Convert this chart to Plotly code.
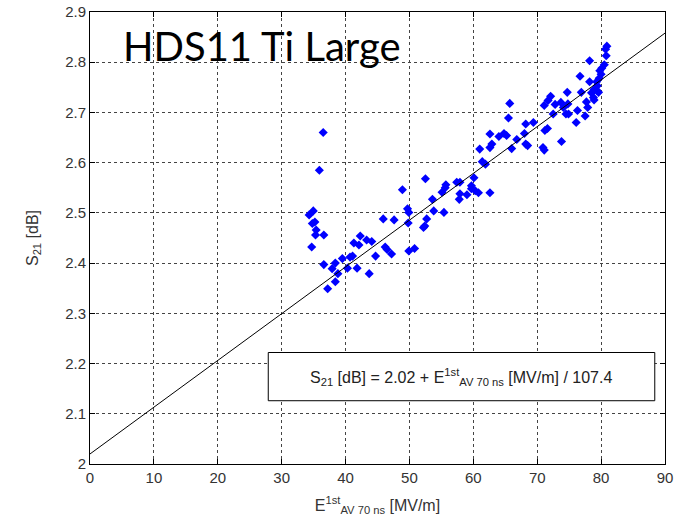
import plotly.graph_objects as go

# Measured data: E_acc (MV/m) vs S21 (dB)
e_field = [
    36.5, 35.9, 34.95, 34.3, 35.2, 34.8, 35.4, 35.3, 36.6, 34.7,
    36.6, 38.4, 37.9, 39.5, 38.8, 38.4, 37.2, 40.7, 41.1, 40.3, 41.8, 43.7, 44.7,
    41.3, 42.3, 42.1, 43.3, 44.1, 46.2, 47.2, 46.5,
    45.9, 47.6, 48.9, 49.7, 49.9, 49.8, 49.9, 50.8, 52.5, 53.6, 53.8, 55.4,
    52.7, 52.4, 52.2, 55.7, 55.6, 55.1,
    57.4, 57.9, 57.9, 57.8, 59.0, 59.7, 60.3, 60.8, 60.1, 62.6, 61.0, 61.4, 61.9, 59.7,
    62.6, 64.0, 64.8, 65.2, 65.7, 65.5, 62.9, 62.6, 66.0, 66.8, 68.0, 68.2, 68.5, 68.2, 69.4,
    80.9, 80.7, 80.8, 78.2, 80.5, 80.1, 79.8, 76.7, 80.0, 79.7, 78.2, 79.3, 79.4, 78.9,
    74.7, 76.9, 78.5, 79.3, 79.6, 78.8, 78.9, 77.7, 77.9, 76.3, 77.5, 76.1, 73.7, 74.1,
    74.8, 74.5, 74.9, 72.1, 71.7, 71.1, 72.8, 72.5, 73.8, 71.6, 71.2, 70.9, 71.1,
]
s21 = [
    2.660, 2.585, 2.504, 2.496, 2.482, 2.479, 2.466, 2.456, 2.456, 2.432,
    2.397, 2.400, 2.389, 2.409, 2.379, 2.363, 2.349, 2.412, 2.414, 2.390, 2.390, 2.379, 2.414,
    2.440, 2.454, 2.436, 2.446, 2.443, 2.432, 2.418, 2.427,
    2.488, 2.486, 2.546, 2.508, 2.501, 2.480, 2.424, 2.429, 2.568, 2.527, 2.504, 2.501,
    2.488, 2.474, 2.471, 2.556, 2.550, 2.541,
    2.561, 2.561, 2.538, 2.527, 2.536, 2.554, 2.544, 2.540, 2.570, 2.540, 2.627, 2.602, 2.597, 2.548,
    2.657, 2.652, 2.658, 2.654, 2.718, 2.689, 2.637, 2.630, 2.628, 2.646, 2.658, 2.637, 2.634, 2.677, 2.680,
    2.832, 2.826, 2.813, 2.803, 2.795, 2.788, 2.783, 2.772, 2.776, 2.768, 2.761, 2.761, 2.753, 2.746,
    2.740, 2.740, 2.739, 2.744, 2.740, 2.730, 2.725, 2.721, 2.710, 2.704, 2.693, 2.680, 2.720, 2.710,
    2.717, 2.697, 2.697, 2.732, 2.724, 2.714, 2.716, 2.697, 2.642, 2.668, 2.664, 2.630, 2.625,
]

# Linear fit: S21 = 2.02 + E / 107.4
fit_intercept = 2.02
fit_slope_div = 107.4
fit_x = [0, 90]
fit_y = [fit_intercept + v / fit_slope_div for v in fit_x]

x_ticks = [0, 10, 20, 30, 40, 50, 60, 70, 80, 90]
y_ticks = [2.0, 2.1, 2.2, 2.3, 2.4, 2.5, 2.6, 2.7, 2.8, 2.9]
y_tick_text = ["2", "2.1", "2.2", "2.3", "2.4", "2.5", "2.6", "2.7", "2.8", "2.9"]

FONT = "Liberation Sans Narrow, Liberation Sans, Arial"
tick_font = dict(family=FONT, size=15, color="#333")

fig = go.Figure()
fig.add_trace(go.Scatter(
    x=e_field, y=s21, mode="markers",
    marker=dict(symbol="diamond", size=7, color="#0000FF", line=dict(width=0)),
    showlegend=False,
))
fig.add_trace(go.Scatter(
    x=fit_x, y=fit_y, mode="lines",
    line=dict(color="black", width=1),
    showlegend=False,
))

axis_common = dict(
    showline=True, linecolor="black", linewidth=1, mirror="ticks",
    ticks="inside", ticklen=5, tickcolor="black",
    showgrid=True, gridcolor="#444", griddash="dot", gridwidth=1,
    zeroline=False, tickfont=tick_font, automargin=False,
)

fig.update_layout(
    width=680, height=519,
    margin=dict(l=90, r=15, t=12, b=55),
    paper_bgcolor="white", plot_bgcolor="white",
    xaxis=dict(range=[0, 90], tickvals=x_ticks, ticktext=[str(v) for v in x_ticks],
               title=dict(text="E<sup>1st</sup><sub>AV 70 ns</sub> [MV/m]",
                          font=dict(family=FONT, size=16, color="#333"),
                          standoff=14),
               **axis_common),
    yaxis=dict(range=[2.0, 2.9], tickvals=y_ticks, ticktext=y_tick_text,
               title=dict(text="S<sub>21</sub> [dB]",
                          font=dict(family=FONT, size=16, color="#333"),
                          standoff=22),
               **axis_common),
    shapes=[dict(type="rect", xref="x", yref="y", x0=27.9, x1=88.4, y0=2.126, y1=2.222,
                 line=dict(color="black", width=1), fillcolor="white", layer="above")],
    annotations=[
        dict(text="HDS11 Ti Large", xref="x", yref="y", x=4.8, y=2.832,
             xanchor="left", yanchor="middle", showarrow=False,
             font=dict(family="Lato, Open Sans, sans-serif", size=40, color="black")),
        dict(text="S<sub>21</sub> [dB] = 2.02 + E<sup>1st</sup><sub>AV 70 ns</sub> [MV/m] / 107.4",
             xref="x", yref="y", x=58.1, y=2.174, xanchor="center", yanchor="middle",
             showarrow=False,
             font=dict(family=FONT, size=16, color="#222")),
    ],
)

fig.write_html("out.html")
